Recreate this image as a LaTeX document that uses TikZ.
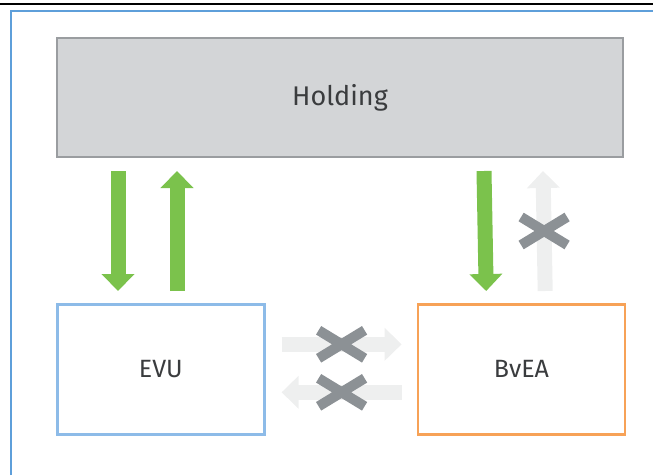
\documentclass[tikz,border=0pt]{standalone}
\usepackage{fontspec}
\setmainfont{Fira Sans}
\usetikzlibrary{positioning, arrows.meta}
\definecolor{holdgray}{HTML}{D3D5D7}
\definecolor{holdline}{HTML}{9A9DA0}
\definecolor{evublue}{HTML}{8DBBE8}
\definecolor{bveaorange}{HTML}{F7A257}
\definecolor{frameblue}{HTML}{5E9FDA}
\definecolor{flowgreen}{HTML}{7BC24C}
\definecolor{faintgray}{HTML}{EEEFEF}
\definecolor{crossgray}{HTML}{8C9195}
\definecolor{textgray}{HTML}{3A3C3E}
\tikzset{
box/.style={draw, line width=2.6pt, inner sep=0pt, minimum width=207pt, minimum height=130pt, text=textgray, font=\fontsize{25}{30}\selectfont}, % company boxes
flow/.style={-{Triangle[width=32pt,length=17pt]}, line width=15pt, draw=flowgreen}, % allowed flow
noflow/.style={flow, draw=faintgray}, % blocked flow
cross/.pic={\draw[line width=10pt, draw=crossgray] (-23pt,-14pt) -- (23pt,14pt) (-23pt,14pt) -- (23pt,-14pt);},
}

\begin{document}
\begin{tikzpicture}[x=1pt, y=1pt]
        \useasboundingbox (0,0) rectangle (653,475);
        % frame
        \draw[line width=2.2pt] (0,471) -- (653,471);
        \draw[frameblue, line width=2.6pt] (11,0) -- (11,464) -- (653,464);

        \node[box, fill=holdgray, draw=holdline, line width=2pt, minimum width=566pt, minimum height=119pt, font=\fontsize{27}{32}\selectfont] (holding) at (340,377.5) {Holding};
        \node[box, draw=evublue, below right=145pt and 0pt of holding.south west] (evu) {EVU};
        \node[box, draw=bveaorange, right=151pt of evu] (bvea) {BvEA};

        % holding <-> evu
        \draw[flow] ([xshift=62pt, yshift=-13pt]holding.south west) -- ([xshift=62pt, yshift=12pt]evu.north west);
        \draw[flow] ([xshift=121pt, yshift=12pt]evu.north west) -- ([xshift=121pt, yshift=-13pt]holding.south west);
        % holding <-> bvea
        \draw[flow] ([xshift=-140pt, yshift=-13pt]holding.south east) -- ([xshift=-140pt, yshift=12pt]bvea.north east);
        \draw[noflow] ([xshift=-81pt, yshift=12pt]bvea.north east) -- coordinate (up) ([xshift=-81pt, yshift=-13pt]holding.south east);
        % evu <-> bvea
        \draw[noflow] ([xshift=16pt, yshift=25pt]evu.east) -- coordinate (right) ([xshift=-15pt, yshift=25pt]bvea.west);
        \draw[noflow] ([xshift=-15pt, yshift=-23pt]bvea.west) -- coordinate (left) ([xshift=16pt, yshift=-23pt]evu.east);

        \pic at (up) {cross};
        \pic at (right) {cross};
        \pic at (left) {cross};
\end{tikzpicture}
\end{document}
